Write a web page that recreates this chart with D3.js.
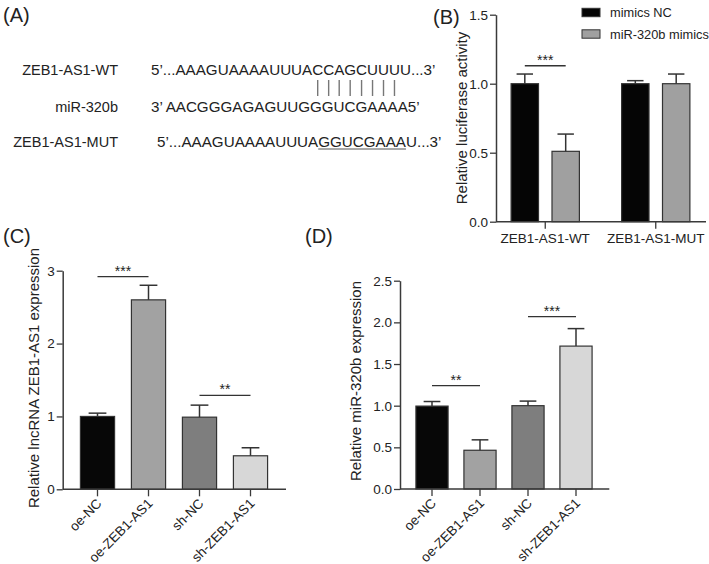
<!DOCTYPE html>
<html><head><meta charset="utf-8">
<script src="https://cdn.jsdelivr.net/npm/d3@7"></script>
<style>
body{margin:0;background:#fff}
svg{display:block}
text{font-family:"Liberation Sans",Arial,Helvetica,sans-serif;fill:#222}
</style>
</head><body>
<svg id="chart" width="709" height="564"></svg>
<script>
// ---------- data ----------
const seqLabels = ["ZEB1-AS1-WT", "miR-320b", "ZEB1-AS1-MUT"];
const seqStrings = [
  "5\u2019...AAAGUAAAAUUUACCAGCUUUU...3\u2019",
  "3\u2019 AACGGGAGAGUUGGGUCGAAAA5\u2019",
  "5\u2019...AAAGUAAAAUUUAGGUCGAAAU...3\u2019"
];
const pairIdx = [18, 19, 20, 21, 22, 23, 24, 25];   // paired bases in WT
const mutIdx = [18, 25];                              // underlined mutated run (first,last)

const bGroups = ["ZEB1-AS1-WT", "ZEB1-AS1-MUT"];
const bSeries = ["mimics NC", "miR-320b mimics"];
const bMimicsNC = [1.0, 1.0];
const bMimicsNCErr = [0.07, 0.022];
const bMiR320b = [0.51, 1.0];
const bMiR320bErr = [0.125, 0.07];
const bTicks = [0, 0.5, 1.0, 1.5];
const bSig = [{g: 0, v: 1.13, t: "***"}];

const cdCats = ["oe-NC", "oe-ZEB1-AS1", "sh-NC", "sh-ZEB1-AS1"];
const cMeans = [1.0, 2.6, 0.99, 0.46];
const cErr = [0.045, 0.2, 0.165, 0.11];
const cTicks = [0, 1, 2, 3];
const cSig = [{a: 0, b: 1, v: 2.92, t: "***"}, {a: 2, b: 3, v: 1.29, t: "**"}];

const dMeans = [0.995, 0.465, 1.0, 1.715];
const dErr = [0.055, 0.125, 0.055, 0.21];
const dTicks = [0, 0.5, 1.0, 1.5, 2.0, 2.5];
const dSig = [{a: 0, b: 1, v: 1.24, t: "**"}, {a: 2, b: 3, v: 2.07, t: "***"}];

// ---------- styles ----------
const AX = "#3a3a3a";
const cdColors = ["#070707", "#a2a2a2", "#7e7e7e", "#d7d7d7"];
const bColors = ["#050505", "#a0a0a0"];
const tickFont = 13.5;

const svg = d3.select("#chart");
svg.append("rect").attr("width", 709).attr("height", 564).attr("fill", "#fff");

function panelLetter(t, x, y) {
  svg.append("text").attr("x", x).attr("y", y).attr("font-size", 20).text(t);
}
panelLetter("(A)", 3, 22);
panelLetter("(B)", 433, 24);
panelLetter("(C)", 3, 243);
panelLetter("(D)", 305, 243);

// ---------- Panel A ----------
const seqY = [75, 112, 147];
const seqX = [151, 151, 157];
const gA = svg.append("g");
gA.selectAll("text.lab").data(seqLabels).join("text")
  .attr("class", "lab").attr("x", 118).attr("y", (d, i) => seqY[i])
  .attr("text-anchor", "end").attr("font-size", 14.5).text(d => d);
const seqNodes = gA.selectAll("text.seq").data(seqStrings).join("text")
  .attr("class", "seq").attr("x", (d, i) => seqX[i]).attr("y", (d, i) => seqY[i])
  .attr("font-size", 15.2).text(d => d).nodes();
// pairing lines centred on WT bases
pairIdx.forEach(i => {
  const e = seqNodes[0].getExtentOfChar(i);
  const cx = e.x + e.width / 2;
  gA.append("line").attr("x1", cx).attr("x2", cx).attr("y1", 80).attr("y2", 96)
    .attr("stroke", "#777").attr("stroke-width", 1.4);
});
{
  const e0 = seqNodes[2].getExtentOfChar(mutIdx[0]);
  const e1 = seqNodes[2].getExtentOfChar(mutIdx[1]);
  gA.append("line").attr("x1", e0.x).attr("x2", e1.x + e1.width)
    .attr("y1", seqY[2] + 2).attr("y2", seqY[2] + 2)
    .attr("stroke", "#555").attr("stroke-width", 1.2);
}

// ---------- helpers ----------
function yAxis(g, y, ticks, x0, fmt) {
  const a = g.append("g").attr("transform", `translate(${x0},0)`)
    .call(d3.axisLeft(y).tickValues(ticks).tickFormat(fmt).tickSize(6).tickSizeOuter(0).tickPadding(2));
  a.select(".domain").attr("stroke", AX).attr("stroke-width", 1.5);
  a.selectAll(".tick line").attr("stroke", AX).attr("stroke-width", 1.3);
  a.selectAll(".tick text").attr("font-size", tickFont).attr("fill", "#333")
    .attr("font-family", '"Liberation Sans",Arial,sans-serif');
}
function xAxisLine(g, y0, x0, x1) {
  g.append("line").attr("x1", x0).attr("x2", x1).attr("y1", y0).attr("y2", y0)
    .attr("stroke", AX).attr("stroke-width", 1.5);
}
function errBar(g, cx, yTop, yErr, capW) {
  g.append("line").attr("x1", cx).attr("x2", cx).attr("y1", yTop).attr("y2", yErr)
    .attr("stroke", "#333").attr("stroke-width", 1.5);
  g.append("line").attr("x1", cx - capW / 2).attr("x2", cx + capW / 2).attr("y1", yErr).attr("y2", yErr)
    .attr("stroke", "#333").attr("stroke-width", 1.5);
}
function sigMark(g, xa, xb, yv, t) {
  g.append("line").attr("x1", xa).attr("x2", xb).attr("y1", yv).attr("y2", yv)
    .attr("stroke", "#333").attr("stroke-width", 1.3);
  g.append("text").attr("x", (xa + xb) / 2).attr("y", yv - 1).attr("text-anchor", "middle")
    .attr("font-size", 14).attr("fill", "#333").text(t);
}
function yLabel(t, x, y) {
  svg.append("text").attr("transform", `translate(${x},${y}) rotate(-90)`)
    .attr("text-anchor", "middle").attr("font-size", 15).text(t);
}

// ---------- Panel B ----------
{
  const g = svg.append("g");
  const y = d3.scaleLinear().domain([0, 1.5]).range([221.7, 14.7]);
  const x0 = d3.scaleBand().domain(bGroups).range([490, 711]);
  const x1 = d3.scaleBand().domain(bSeries).range([-x0.step() * 0.37, x0.step() * 0.37]);
  const bw = x1.bandwidth() * 0.67;
  const seriesVals = [bMimicsNC, bMiR320b];
  const seriesErr = [bMimicsNCErr, bMiR320bErr];
  const cxOf = (gi, si) => x0(bGroups[gi]) + x0.step() / 2 + x1(bSeries[si]) + x1.bandwidth() / 2;
  bSeries.forEach((s, si) => {
    bGroups.forEach((gr, gi) => {
      const cx = cxOf(gi, si), v = seriesVals[si][gi];
      g.append("rect").attr("x", cx - bw / 2).attr("y", y(v)).attr("width", bw)
        .attr("height", y(0) - y(v)).attr("fill", bColors[si]).attr("stroke", "#333").attr("stroke-width", 1.2);
      errBar(g, cx, y(v), y(v + seriesErr[si][gi]), bw * 0.6);
    });
  });
  xAxisLine(g, y(0), 496, 706);
  bGroups.forEach((gr, gi) => {
    const cx = x0(gr) + x0.step() / 2;
    g.append("line").attr("x1", cx).attr("x2", cx).attr("y1", y(0)).attr("y2", y(0) + 7)
      .attr("stroke", AX).attr("stroke-width", 1.3);
    g.append("text").attr("x", cx).attr("y", y(0) + 21).attr("text-anchor", "middle")
      .attr("font-size", tickFont).attr("fill", "#333").text(gr);
  });
  yAxis(g, y, bTicks, 496, d3.format(".1f"));
  bSig.forEach(s => sigMark(g, cxOf(s.g, 0), cxOf(s.g, 1), y(s.v), s.t));
  // legend
  const lg = svg.append("g");
  bSeries.forEach((s, i) => {
    const ly = 12.5 + i * 21.5;
    lg.append("rect").attr("x", 582).attr("y", ly - 4.2).attr("width", 18).attr("height", 8.4)
      .attr("fill", bColors[i]).attr("stroke", "#333").attr("stroke-width", 1);
    lg.append("text").attr("x", 610).attr("y", ly + 4.5).attr("font-size", 12.8).attr("fill", "#333").text(s);
  });
  yLabel("Relative luciferase activity", 467, 118);
}

// ---------- Panels C & D ----------
function catPanel(opts) {
  const g = svg.append("g");
  const y = d3.scaleLinear().domain([0, opts.yMax]).range(opts.yRange);
  const x = d3.scaleBand().domain(cdCats).range(opts.xRange);
  const bw = x.step() * 0.67;
  const cx = c => x(c) + x.bandwidth() / 2;
  cdCats.forEach((c, i) => {
    const v = opts.means[i];
    g.append("rect").attr("x", cx(c) - bw / 2).attr("y", y(v)).attr("width", bw)
      .attr("height", y(0) - y(v)).attr("fill", cdColors[i]).attr("stroke", "#333").attr("stroke-width", 1.2);
    errBar(g, cx(c), y(v), y(v + opts.errs[i]), bw * 0.52);
  });
  xAxisLine(g, y(0), opts.axisX0, opts.axisX1);
  cdCats.forEach(c => {
    g.append("line").attr("x1", cx(c)).attr("x2", cx(c)).attr("y1", y(0)).attr("y2", y(0) + 7)
      .attr("stroke", AX).attr("stroke-width", 1.3);
    g.append("text").attr("transform", `translate(${cx(c) + 5},${y(0) + 15}) rotate(-45)`)
      .attr("text-anchor", "end").attr("font-size", tickFont).attr("fill", "#333").text(c);
  });
  yAxis(g, y, opts.ticks, opts.axisX0, opts.fmt);
  opts.sig.forEach(s => sigMark(g, cx(cdCats[s.a]), cx(cdCats[s.b]), y(s.v), s.t));
  yLabel(opts.label, opts.labX, opts.labY);
}
catPanel({
  means: cMeans, errs: cErr, ticks: cTicks, yMax: 3, yRange: [489.3, 270.7],
  xRange: [72, 276], axisX0: 62.7, axisX1: 286, fmt: d3.format("d"), sig: cSig,
  label: "Relative lncRNA ZEB1-AS1 expression", labX: 39, labY: 378
});
catPanel({
  means: dMeans, errs: dErr, ticks: dTicks, yMax: 2.5, yRange: [489, 280.7],
  xRange: [408, 600], axisX0: 400, axisX1: 609.3, fmt: d3.format(".1f"), sig: dSig,
  label: "Relative miR-320b expression", labX: 361, labY: 381
});
</script>
</body></html>
